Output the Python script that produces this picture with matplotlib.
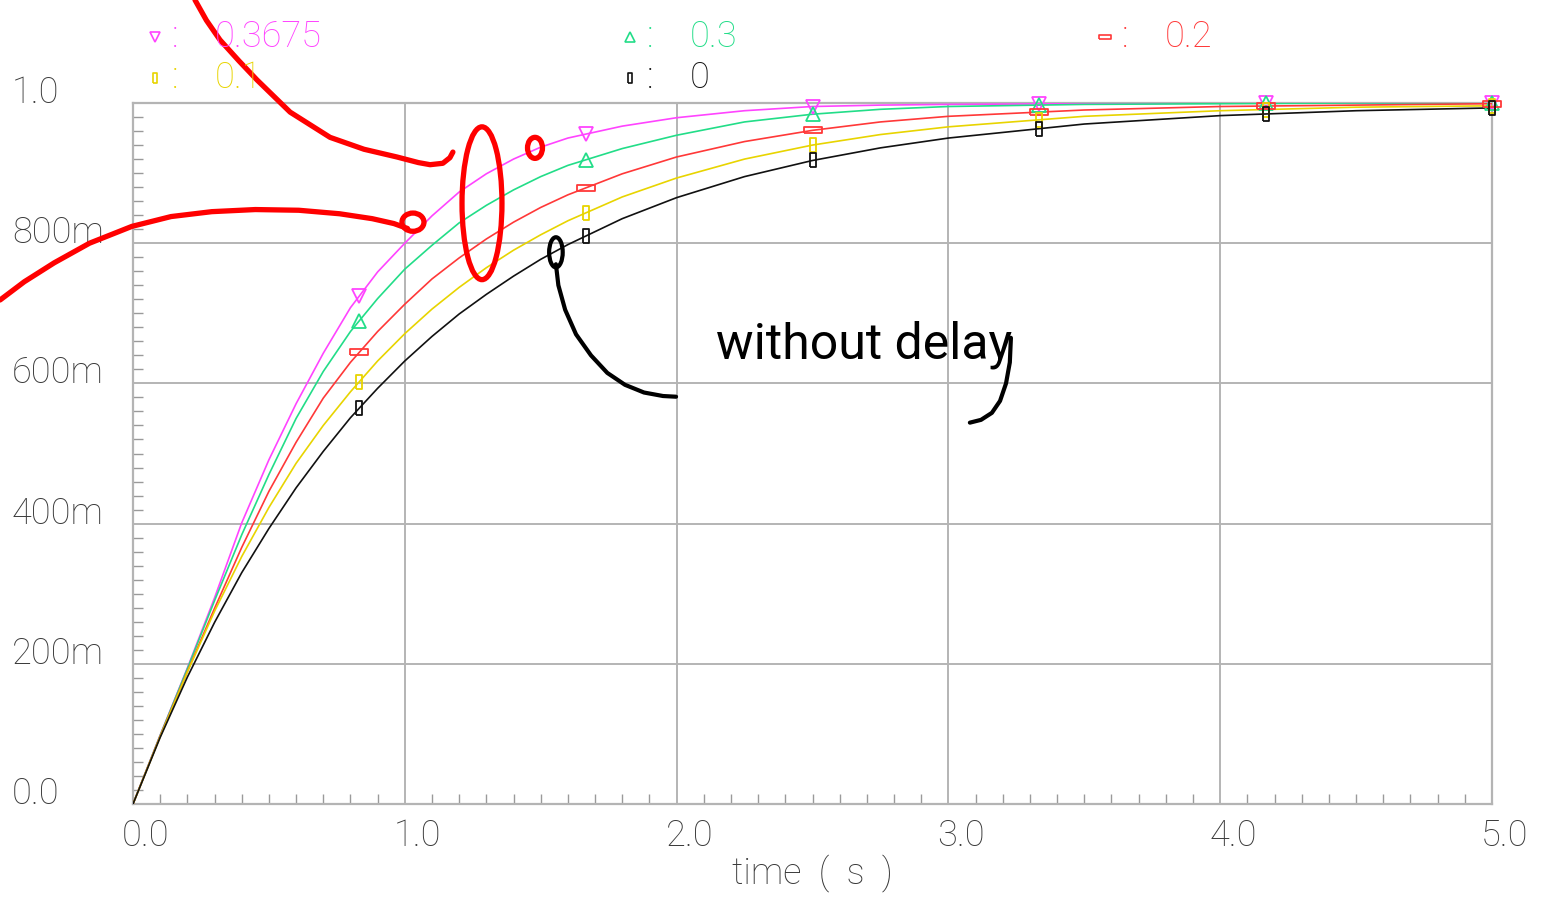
import numpy as np
import matplotlib
matplotlib.use("Agg")
import matplotlib.pyplot as plt
import matplotlib.transforms as mtransforms
from matplotlib.ticker import MultipleLocator
from matplotlib.patches import Ellipse

# time axis (s) and the five responses
time = [0, 0.1, 0.2, 0.3, 0.4, 0.5, 0.6, 0.7, 0.8, 0.9, 1.0, 1.1, 1.2, 1.3, 1.4,
        1.5, 1.6, 1.8, 2.0, 2.25, 2.5, 2.75, 3.0, 3.5, 4.0, 4.5, 5.0]
v_03675 = [0, 0.098, 0.194, 0.294, 0.401, 0.491, 0.571, 0.643, 0.708, 0.759, 0.800,
           0.839, 0.873, 0.899, 0.920, 0.937, 0.950, 0.967, 0.979, 0.989, 0.995,
           0.997, 0.998, 0.999, 1.0, 1.0, 1.0]
v_03 = [0, 0.098, 0.193, 0.290, 0.384, 0.470, 0.550, 0.617, 0.674, 0.721, 0.763,
        0.797, 0.829, 0.854, 0.876, 0.895, 0.911, 0.935, 0.954, 0.973, 0.984,
        0.991, 0.995, 0.998, 0.999, 1.0, 1.0]
v_02 = [0, 0.097, 0.189, 0.279, 0.366, 0.446, 0.516, 0.579, 0.630, 0.674, 0.713,
        0.749, 0.779, 0.806, 0.830, 0.851, 0.869, 0.899, 0.923, 0.945, 0.961,
        0.973, 0.981, 0.990, 0.995, 0.997, 0.999]
v_01 = [0, 0.096, 0.188, 0.275, 0.353, 0.423, 0.486, 0.540, 0.588, 0.632, 0.671,
        0.706, 0.737, 0.765, 0.790, 0.812, 0.832, 0.866, 0.893, 0.920, 0.940,
        0.955, 0.966, 0.981, 0.989, 0.994, 0.996]
v_0 = [0, 0.095, 0.181, 0.259, 0.330, 0.393, 0.451, 0.503, 0.551, 0.593, 0.632,
       0.667, 0.699, 0.727, 0.753, 0.777, 0.798, 0.835, 0.865, 0.895, 0.918,
       0.936, 0.950, 0.970, 0.982, 0.989, 0.993]

marker_t = [0.833, 1.667, 2.5, 3.333, 4.167, 5.0]
labels = ["0.3675", "0.3", "0.2", "0.1", "0"]

y_ticks = [0, 0.2, 0.4, 0.6, 0.8, 1.0]
y_tick_labels = ["0.0", "200m", "400m", "600m", "800m", "1.0"]
x_ticks = [0, 1, 2, 3, 4, 5]
x_tick_labels = ["0.0", "1.0", "2.0", "3.0", "4.0", "5.0"]

# hand drawn marks on top of the plot (time, value)
red_stroke1_t = [0.228, 0.270, 0.320, 0.390, 0.456, 0.578, 0.725, 0.850, 0.971,
                 1.050, 1.093, 1.140, 1.166, 1.177]
red_stroke1_v = [1.147, 1.118, 1.090, 1.060, 1.033, 0.987, 0.951, 0.934, 0.923,
                 0.915, 0.912, 0.914, 0.922, 0.930]
red_stroke2_t = [-0.489, -0.400, -0.290, -0.160, -0.004, 0.140, 0.290, 0.450,
                 0.610, 0.760, 0.880, 0.960, 1.010]
red_stroke2_v = [0.719, 0.745, 0.772, 0.800, 0.824, 0.838, 0.845, 0.848,
                 0.847, 0.842, 0.835, 0.828, 0.821]
black_stroke_t = [1.556, 1.565, 1.590, 1.630, 1.685, 1.745, 1.810, 1.880, 1.950, 1.998]
black_stroke_v = [0.770, 0.740, 0.705, 0.670, 0.640, 0.615, 0.598, 0.587, 0.582, 0.581]
tail_t = [3.230, 3.226, 3.212, 3.190, 3.160, 3.120, 3.079]
tail_v = [0.665, 0.630, 0.600, 0.575, 0.558, 0.548, 0.544]

colors = ["#ff44ff", "#22dd88", "#ff3838", "#e8d400", "#111111"]
hrect = [(-1, -0.33), (1, -0.33), (1, 0.33), (-1, 0.33), (-1, -0.33)]
vrect = [(-0.42, -1), (0.42, -1), (0.42, 1), (-0.42, 1), (-0.42, -1)]
markers = ["v", "^", hrect, vrect, vrect]
msizes = [10, 10, 13, 10, 10]

FONT = "Roboto"
TXT = "#3a3a3a"

fig = plt.figure(figsize=(15.53, 8.99), dpi=100)
ax = fig.add_axes([133 / 1553, 1 - 804 / 899, 1359 / 1553, 701 / 899])

series = [v_03675, v_03, v_02, v_01, v_0]
for vals, c, m, ms in zip(series, colors, markers, msizes):
    ax.plot(time, vals, color=c, lw=1.2, zorder=3)
    my = np.interp(marker_t, time, vals)
    ax.plot(marker_t, my, ls="none", marker=m, ms=ms, mfc="none", mec=c,
            mew=1.3, zorder=4, clip_on=False)

ax.set_xlim(0, 5)
ax.set_ylim(0, 1)
ax.set_xticks(x_ticks)
ax.set_yticks(y_ticks)
ax.xaxis.set_minor_locator(MultipleLocator(0.1))
ax.yaxis.set_minor_locator(MultipleLocator(0.02))
ax.tick_params(which="major", length=0, labelbottom=False, labelleft=False)
ax.tick_params(which="minor", direction="in", length=7, width=1, color="#9a9a9a")
ax.grid(True, which="major", color="#b4b4b4", lw=1.4)
for s in ax.spines.values():
    s.set_color("#b4b4b4")
    s.set_linewidth(1.6)

# tick labels, placed the way the simulator draws them
ytr = ax.get_yaxis_transform()
for v, lab in zip(y_ticks, y_tick_labels):
    ax.text(-0.089, v, lab, transform=ytr, ha="left", va="baseline",
            fontsize=26, family=FONT, weight="light", color=TXT)
xtr = ax.get_xaxis_transform() + mtransforms.ScaledTranslation(-0.11, 0, fig.dpi_scale_trans)
for t, lab in zip(x_ticks, x_tick_labels):
    ax.text(t, -0.02, lab, transform=xtr, ha="left", va="top",
            fontsize=26, family=FONT, weight="light", color=TXT)
fig.text(812 / 1553, 1 - 873 / 899, "time  (  s  )", ha="center", va="center",
         fontsize=26, family=FONT, weight="light", color=TXT)

# legend rows at the top
leg_pos = [(155, 37), (630, 37), (1105, 37), (155, 78), (630, 78)]
for (px, py), lab, c, m in zip(leg_pos, labels, colors, markers):
    fx, fy = px / 1553, 1 - py / 899
    ax.plot([fx], [fy], transform=fig.transFigure, ls="none", marker=m,
            ms=7 if m is not hrect else 9, mfc="none", mec=c, mew=1.2, clip_on=False)
    fig.text(fx + 17 / 1553, fy, ":", ha="left", va="center", fontsize=26,
             family=FONT, weight="light", color=c)
    fig.text(fx + 60 / 1553, fy, lab, ha="left", va="center", fontsize=26,
             family=FONT, weight="light", color=c)

# hand annotations
ax.plot(red_stroke1_t, red_stroke1_v, color="red", lw=3.8, solid_capstyle="round",
        solid_joinstyle="round", clip_on=False, zorder=6)
ax.plot(red_stroke2_t, red_stroke2_v, color="red", lw=3.8, solid_capstyle="round",
        solid_joinstyle="round", clip_on=False, zorder=6)
for (ct, cv, w, h) in [(1.030, 0.830, 0.081, 0.026), (1.479, 0.936, 0.055, 0.030),
                       (1.284, 0.857, 0.147, 0.218)]:
    ax.add_patch(Ellipse((ct, cv), w, h, fill=False, ec="red", lw=3.8, zorder=6))
ax.add_patch(Ellipse((1.556, 0.787), 0.05, 0.043, fill=False, ec="black", lw=3, zorder=6))
ax.plot(black_stroke_t, black_stroke_v, color="black", lw=3, solid_capstyle="round",
        solid_joinstyle="round", zorder=6)
ax.plot(tail_t, tail_v, color="black", lw=3, solid_capstyle="round",
        solid_joinstyle="round", zorder=6)
ax.text(2.69, 0.655, "without delay", fontsize=36, family=FONT,
        color="black", ha="center", va="center", zorder=6)

fig.savefig("out.png", dpi=100)
